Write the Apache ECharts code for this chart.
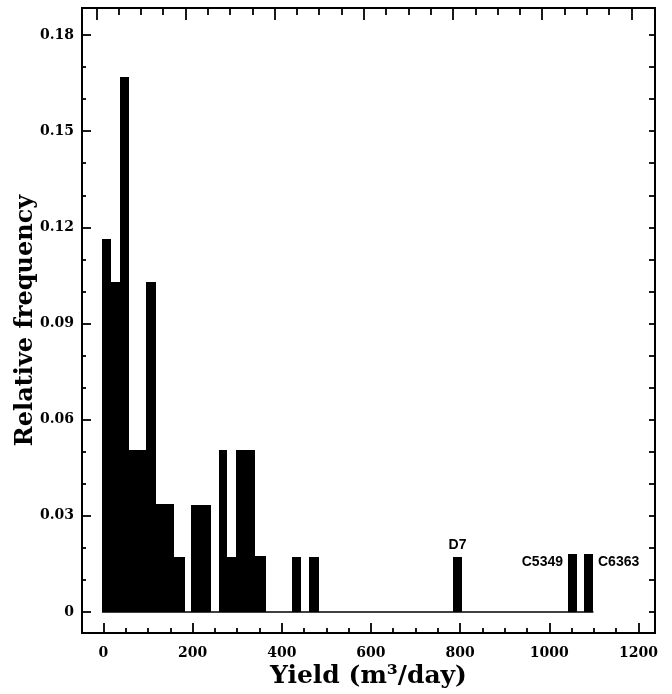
<!DOCTYPE html>
<html>
<head>
<meta charset="utf-8">
<script src="https://cdn.jsdelivr.net/npm/echarts@6/dist/echarts.min.js"></script>
<style>
  html, body { margin: 0; padding: 0; background: #fff; }
  #chart { width: 672px; height: 694px; }
</style>
</head>
<body>
<div id="chart"></div>
<script>
// Histogram of well yields: each bin has a left edge, right edge and relative frequency.
const binStart = [-3, 17, 37.5, 57.6, 95.8, 118.2, 158.6, 196.7, 260.2, 278.1, 297.7, 340.3, 423.3, 461.3, 783.8, 1041.7, 1078.3];
const binEnd   = [17, 37.5, 57.6, 95.8, 118.2, 158.6, 183.3, 240.9, 278.1, 297.7, 340.3, 364.3, 444, 484.5, 805.3, 1062.6, 1099];
const freq     = [0.1163, 0.1029, 0.1668, 0.0504, 0.1028, 0.0336, 0.0171, 0.0335, 0.0504, 0.0171, 0.0504, 0.0175, 0.0171, 0.0171, 0.0173, 0.0181, 0.0182];
const wellNames = ['', '', '', '', '', '', '', '', '', '', '', '', '', '', 'D7', 'C5349', 'C6363'];

// Axis ticks and labels
const xMajor = [0, 200, 400, 600, 800, 1000, 1200];
const xMajorLabels = ['0', '200', '400', '600', '800', '1000', '1200'];
const xMinor = [50, 100, 150, 250, 300, 350, 450, 500, 550, 650, 700, 750, 850, 900, 950, 1050, 1100, 1150];
const yMajor = [0, 0.03, 0.06, 0.09, 0.12, 0.15, 0.18];
const yMajorLabels = ['0', '0.03', '0.06', '0.09', '0.12', '0.15', '0.18'];
const yMinor = [0.01, 0.02, 0.04, 0.05, 0.07, 0.08, 0.10, 0.11, 0.13, 0.14, 0.16, 0.17];
const yAll = [0, 0.01, 0.02, 0.03, 0.04, 0.05, 0.06, 0.07, 0.08, 0.09, 0.10, 0.11, 0.12, 0.13, 0.14, 0.15, 0.16, 0.17, 0.18];

const X_MIN = -48, X_MAX = 1237;
const Y_MIN = -0.00655, Y_MAX = 0.18842;
const TOP_SHIFT = 16; // tick marks along the top edge sit slightly left of the bottom ones

const bars = binStart.map((s, i) => [s, binEnd[i], freq[i], wellNames[i]]);

const labelPlacement = {
  D7:    { position: 'top', distance: 5, align: 'center', verticalAlign: 'bottom' },
  C5349: { position: [-5, 8], align: 'right', verticalAlign: 'middle' },
  C6363: { position: ['100%', 8], offset: [5, 0], align: 'left', verticalAlign: 'middle' }
};

const serif = '"DejaVu Serif", serif';
const tickLabel = { color: '#000', fontFamily: serif, fontWeight: 'bold', fontSize: 14 };
const hiddenLine = { show: false, onZero: false };
const tickStyle = { color: '#000', width: 1.8 };

function renderBar(params, api) {
  const x0 = api.value(0), x1 = api.value(1), v = api.value(2);
  const name = bars[params.dataIndex][3];
  const topLeft = api.coord([x0, v]);
  const bottomRight = api.coord([x1, 0]);
  // snap to whole pixels so neighbouring bins join without seams
  const left = Math.round(topLeft[0]);
  const right = Math.round(bottomRight[0]);
  const top = Math.round(topLeft[1]);
  const bottom = Math.round(bottomRight[1]);
  const el = {
    type: 'rect',
    shape: { x: left, y: top, width: right - left, height: bottom - top },
    style: { fill: '#000' }
  };
  if (name) {
    const p = labelPlacement[name];
    el.textContent = {
      style: {
        text: name, fill: '#000',
        fontFamily: '"Liberation Sans", Arial, sans-serif',
        fontWeight: 'bold', fontSize: 14,
        align: p.align, verticalAlign: p.verticalAlign
      }
    };
    el.textConfig = { position: p.position, distance: p.distance || 0, offset: p.offset || [0, 0] };
  }
  return el;
}

const chart = echarts.init(document.getElementById('chart'), null, { renderer: 'canvas' });
chart.setOption({
  animation: false,
  backgroundColor: '#fff',
  grid: {
    left: 82, right: 17, top: 8, bottom: 61,
    outerBoundsMode: 'none', containLabel: false,
    show: true, borderColor: '#000', borderWidth: 2, backgroundColor: 'transparent'
  },
  xAxis: [
    {
      type: 'value', position: 'bottom', min: X_MIN, max: X_MAX,
      axisLine: hiddenLine, splitLine: { show: false },
      axisTick: { show: true, inside: true, length: 10, customValues: xMajor, lineStyle: tickStyle },
      axisLabel: {
        show: true, margin: 13, customValues: xMajor, ...tickLabel,
        formatter: v => xMajorLabels[xMajor.indexOf(v)]
      },
      name: 'Yield (m³/day)', nameLocation: 'middle', nameGap: 31, nameMoveOverlap: false,
      nameTextStyle: { color: '#000', fontFamily: serif, fontWeight: 'bold', fontSize: 25 }
    },
    {
      type: 'value', position: 'bottom', min: X_MIN, max: X_MAX,
      axisLine: hiddenLine, splitLine: { show: false }, axisLabel: { show: false },
      axisTick: { show: true, inside: true, length: 5, customValues: xMinor, lineStyle: tickStyle }
    },
    {
      type: 'value', position: 'top', min: X_MIN + TOP_SHIFT, max: X_MAX + TOP_SHIFT,
      axisLine: hiddenLine, splitLine: { show: false }, axisLabel: { show: false },
      axisTick: { show: true, inside: true, length: 12, customValues: xMajor, lineStyle: tickStyle }
    },
    {
      type: 'value', position: 'top', min: X_MIN + TOP_SHIFT, max: X_MAX + TOP_SHIFT,
      axisLine: hiddenLine, splitLine: { show: false }, axisLabel: { show: false },
      axisTick: { show: true, inside: true, length: 7, customValues: xMinor, lineStyle: tickStyle }
    }
  ],
  yAxis: [
    {
      type: 'value', position: 'left', min: Y_MIN, max: Y_MAX,
      axisLine: hiddenLine, splitLine: { show: false },
      axisTick: { show: true, inside: true, length: 9, customValues: yMajor, lineStyle: tickStyle },
      axisLabel: {
        show: true, margin: 8, customValues: yMajor, ...tickLabel,
        formatter: v => yMajorLabels[yMajor.indexOf(v)]
      },
      name: 'Relative frequency', nameLocation: 'middle', nameGap: 44, nameMoveOverlap: false,
      nameTextStyle: { color: '#000', fontFamily: serif, fontWeight: 'bold', fontSize: 24 }
    },
    {
      type: 'value', position: 'left', min: Y_MIN, max: Y_MAX,
      axisLine: hiddenLine, splitLine: { show: false }, axisLabel: { show: false },
      axisTick: { show: true, inside: true, length: 4, customValues: yMinor, lineStyle: tickStyle }
    },
    {
      type: 'value', position: 'right', min: Y_MIN, max: Y_MAX,
      axisLine: hiddenLine, splitLine: { show: false }, axisLabel: { show: false },
      axisTick: { show: true, inside: true, length: 6, customValues: yAll, lineStyle: tickStyle }
    }
  ],
  series: [
    {
      type: 'line',
      xAxisIndex: 0, yAxisIndex: 0,
      data: [[binStart[0], 0], [binEnd[binEnd.length - 1], 0]],
      symbol: 'none', silent: true,
      lineStyle: { color: '#000', width: 1.5 }
    },
    {
      type: 'custom',
      xAxisIndex: 0, yAxisIndex: 0,
      renderItem: renderBar,
      encode: { x: [0, 1], y: 2 },
      data: bars
    }
  ]
});
</script>
</body>
</html>
